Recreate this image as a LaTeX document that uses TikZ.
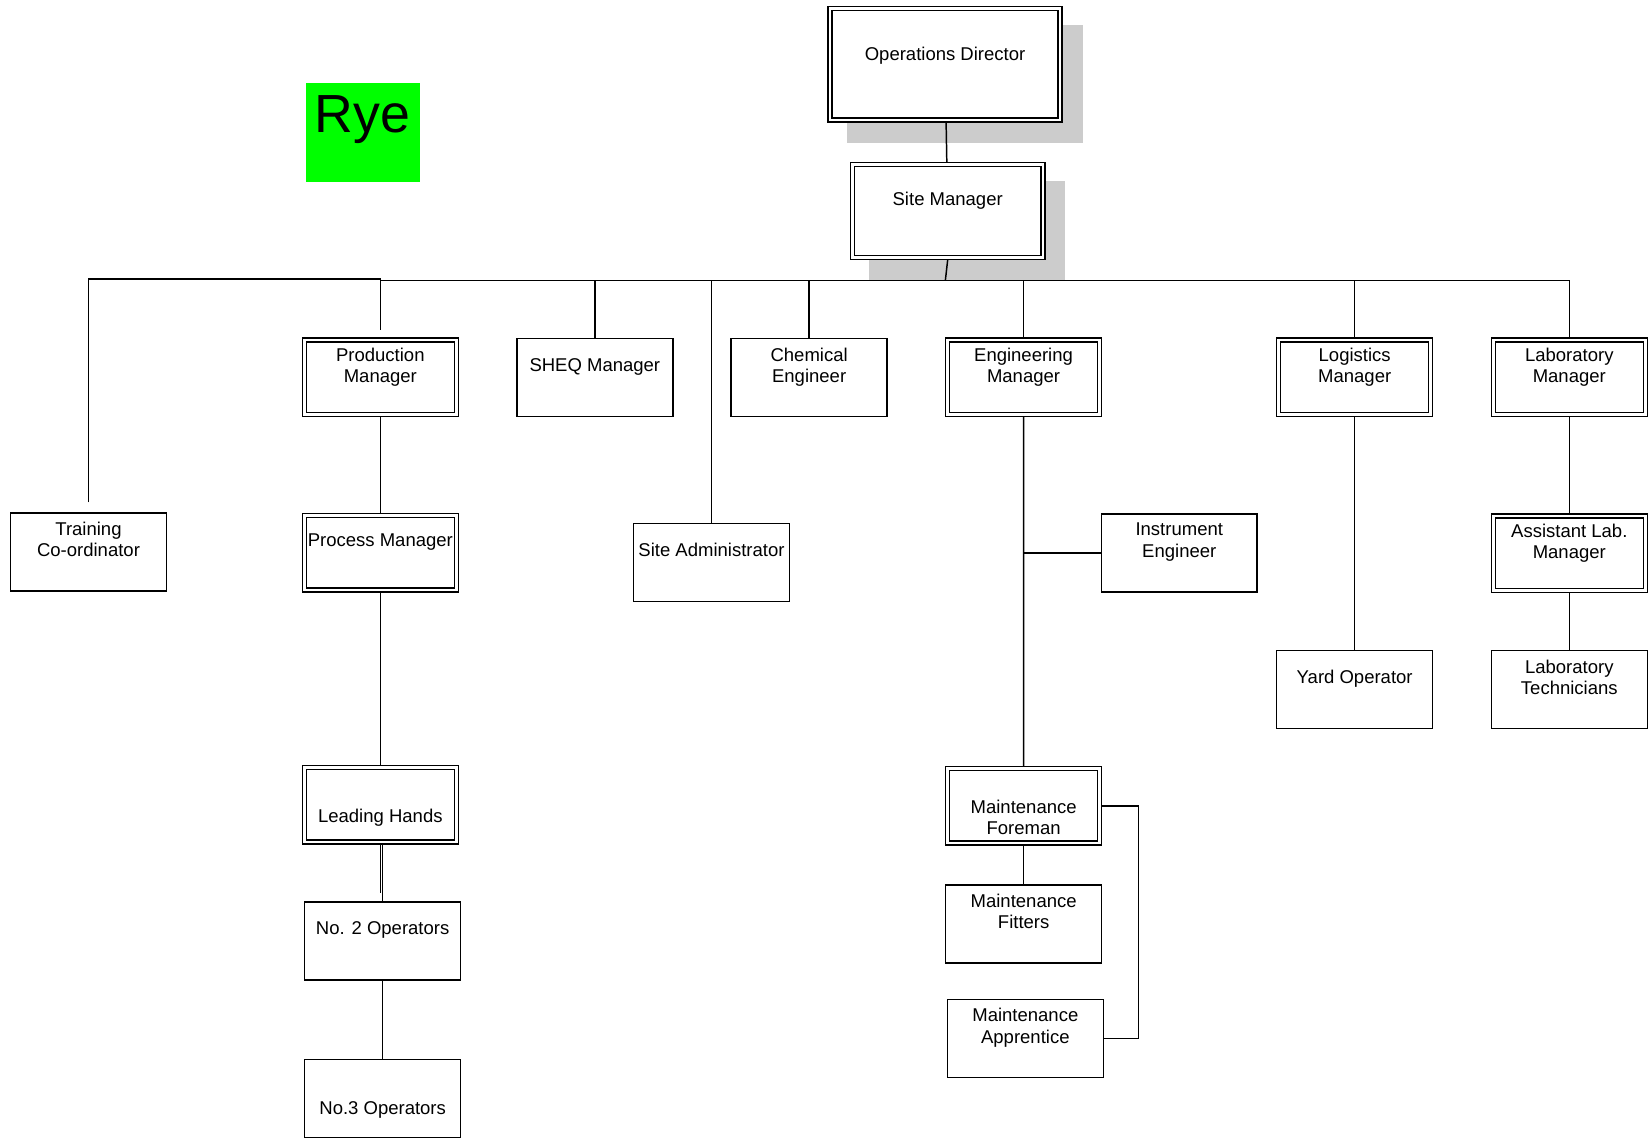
\documentclass[tikz,border=0pt]{standalone}
\usepackage{fontspec}
\setmainfont{Liberation Sans}
\usetikzlibrary{positioning,backgrounds}
\definecolor{shadowgray}{RGB}{204,204,204}
\definecolor{ryegreen}{RGB}{0,255,0}
\tikzset{
post/.style={rectangle,draw,fill=white,minimum width=2.96cm,minimum height=1.48cm,inner sep=0pt},
senior/.style={post,double,double distance=1.36pt,minimum width=2.884cm,minimum height=1.414cm,
outer sep=0.038cm},
caption/.style={inner sep=0pt,align=center,font=\fontsize{10}{11.55}\selectfont},
site tag/.style={fill=ryegreen,minimum width=2.158cm,minimum height=1.868cm,inner sep=0pt},
site name/.style={anchor=base west,inner sep=0pt,font=\fontsize{29}{34}\selectfont}
}

\begin{document}
\begin{tikzpicture}[x=0.02cm, y=-0.02cm, line width=0.8pt]
\useasboundingbox (0,0) rectangle (1568,1085);

\node[senior,minimum width=4.364cm,minimum height=2.124cm] (ops) at (897,61) {};
\node[senior,minimum width=3.624cm,minimum height=1.774cm] (site) at (899.5,200.3) {};
\node[site tag] (rye) at (344.35,125.7) {};
\node[site name] (rye-t) at (298,126) {Rye};

\node[senior] (prod) at (361,358.2) {};
\node[post] (sheq) at (564.6,358.5) {};
\node[post] (chem) at (768,358.5) {};
\node[senior] (eng) at (971.5,358.2) {};
\node[senior] (logi) at (1285.8,358.2) {};
\node[senior] (lab) at (1489.5,358.2) {};

\node[post] (train) at (84,524) {};
\node[senior] (proc) [below=1.84cm of prod] {};
\node[post] (admin) at (675.3,534) {};
\node[post] (instr) at (1119.3,524.8) {};
\node[senior] (asst) [below=1.85cm of lab] {};
\node[post] (yard) [below=4.43cm of logi] {};
\node[post] (labtech) [below=1.09cm of asst] {};
\node[senior] (lead) [below=3.294cm of proc] {};
\node[senior] (fore) at (971.6,764.9) {};
\node[post] (no2) at (363.2,893.3) {};
\node[post] (fit) [below=0.74cm of fore] {};
\node[post] (appr) at (973.2,985.5) {};
\node[post] (no3) [below=1.48cm of no2] {};

\node[caption,below=0.762cm of ops.north] (ops-t) {Operations Director};
\node[caption,below=0.554cm of site.north] (site-t) {Site Manager};
\node[caption,below=0.172cm of prod.north] (prod-t) {Production\\Manager};
\node[caption,below=0.372cm of sheq.north] (sheq-t) {SHEQ Manager};
\node[caption,below=0.172cm of chem.north] (chem-t) {Chemical\\Engineer};
\node[caption,below=0.172cm of eng.north] (eng-t) {Engineering\\Manager};
\node[caption,below=0.172cm of logi.north] (logi-t) {Logistics\\Manager};
\node[caption,below=0.172cm of lab.north] (lab-t) {Laboratory\\Manager};
\node[caption,below=0.172cm of train.north] (train-t) {Training\\Co-ordinator};
\node[caption,below=0.372cm of proc.north] (proc-t) {Process Manager};
\node[caption,below=0.372cm of admin.north] (admin-t) {Site Administrator};
\node[caption,below=0.172cm of instr.north] (instr-t) {Instrument\\Engineer};
\node[caption,below=0.172cm of asst.north] (asst-t) {Assistant Lab.\\Manager};
\node[caption,below=0.372cm of yard.north] (yard-t) {Yard Operator};
\node[caption,below=0.172cm of labtech.north] (labtech-t) {Laboratory\\Technicians};
\node[caption,below=0.806cm of lead.north] (lead-t) {Leading Hands};
\node[caption,below=0.614cm of fore.north] (fore-t) {Maintenance\\Foreman};
\node[caption,below=0.372cm of no2.north] (no2-t) {No. 2 Operators};
\node[caption,below=0.172cm of fit.north] (fit-t) {Maintenance\\Fitters};
\node[caption,below=0.172cm of appr.north] (appr-t) {Maintenance\\Apprentice};
\node[caption,below=0.804cm of no3.north] (no3-t) {No.3 Operators};

% lines of report
\coordinate (bus) at (897.3,266);
\coordinate (tcorner) at (84,264.8);
\coordinate[above=0.16cm of prod] (prod-end);
\coordinate[above=0.19cm of train] (train-end);
\coordinate[below=0.94cm of lead] (lead-end);

\draw (ops) -- (site);
\draw (site.south) -- (bus);
\draw (train-end) -- (tcorner) -| (prod-end);
\draw (prod-end |- bus) -- (lab.north |- bus) -- (lab.north);
\foreach \n in {sheq,chem,eng,logi,admin}
  \draw (\n.north |- bus) -- (\n.north);
\draw (prod) -- (proc);
\draw (proc) -- (lead);
\draw (lead) -- (lead-end);
\draw (no2.north) -- (no2.north |- lead.south);
\draw (no2) -- (no3);
\draw (eng) -- (fore);
\draw (eng.south |- instr.west) -- (instr.west);
\draw (fore) -- (fit);
\draw (fore.east) -- ++(35,0) |- (appr.east);
\draw (logi) -- (yard);
\draw (lab) -- (asst);
\draw (asst) -- (labtech);

% shadows
\begin{scope}[on background layer]
\fill[shadowgray] ([shift={(18,18)}]ops.north west) rectangle ([shift={(20,20)}]ops.south east);
\fill[shadowgray] ([shift={(18,18)}]site.north west) rectangle ([shift={(19,19)}]site.south east);
\end{scope}

\end{tikzpicture}
\end{document}
